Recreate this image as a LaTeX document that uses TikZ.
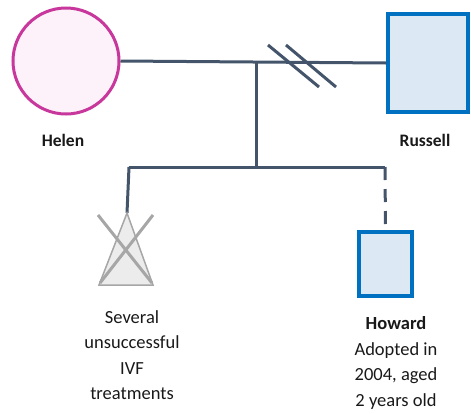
\documentclass[tikz,border=0pt]{standalone}
\usepackage{fontspec}
\setmainfont{Carlito}
\definecolor{linec}{HTML}{44546A}
\definecolor{pinkc}{HTML}{C8379B}
\definecolor{pinkf}{HTML}{FDF2FA}
\definecolor{bluec}{HTML}{0070C0}
\definecolor{bluef}{HTML}{DDE8F5}
\definecolor{grayc}{HTML}{A6A6A6}
\definecolor{grayf}{HTML}{ECECEC}
\begin{document}
\begin{tikzpicture}[x=1pt,y=-1pt,
  rel/.style={draw=linec,line width=3pt},
  female/.style={circle,draw=pinkc,fill=pinkf,line width=3pt,minimum size=106pt,inner sep=0pt},
  male/.style={rectangle,draw=bluec,fill=bluef,line width=3.5pt,inner sep=0pt},
  lbl/.style={font=\fontsize{18.5}{25.5}\selectfont,align=center,text=black!90},
  blbl/.style={lbl,font=\fontsize{17.5}{25}\selectfont\bfseries}]
\useasboundingbox (0,0) rectangle (471,413);
\node[female] (helen) at (66,61) {};
\node[male,minimum width=80pt,minimum height=98pt] (russell) at (428,63) {};
\node[male,minimum width=53pt,minimum height=64pt] (howard) at (385.5,264) {};
\coordinate (m) at (256,61);
\coordinate (s) at (256,167);
\coordinate (sl) at (129,167);
\coordinate (sr) at (385,167);
\coordinate (apex) at (127,213);
\coordinate (bl) at (99,285);
\coordinate (br) at (153,285);
\draw[rel] (helen.east) -- (russell.west);
\draw[rel] (m) -- (s);
\draw[rel] (sl) -- (sr);
\draw[rel] (sl) -- (apex);
\draw[rel,dash pattern=on 13pt off 9pt] (sr) -- (howard.north);
\draw[rel] (268,45) -- (319,87);
\draw[rel] (286,45) -- (336,87);
\draw[draw=grayc,fill=grayf,line width=1.5pt] (apex) -- (br) -- (bl) -- cycle;
\draw[grayc,line width=3pt] (98,215) -- (152,283);
\draw[grayc,line width=3pt] (153,215) -- (100,283);
\node[blbl] (helenl) at (63,140) {Helen};
\node[blbl] (russelll) at (425,140) {Russell};
\node[lbl] (ivf) at (132,355) {Several\\unsuccessful\\IVF\\treatments};
\node[lbl,anchor=north] (howardl) at (396,313) {\textbf{Howard}\\Adopted in\\2004, aged\\2 years old};
\end{tikzpicture}
\end{document}
